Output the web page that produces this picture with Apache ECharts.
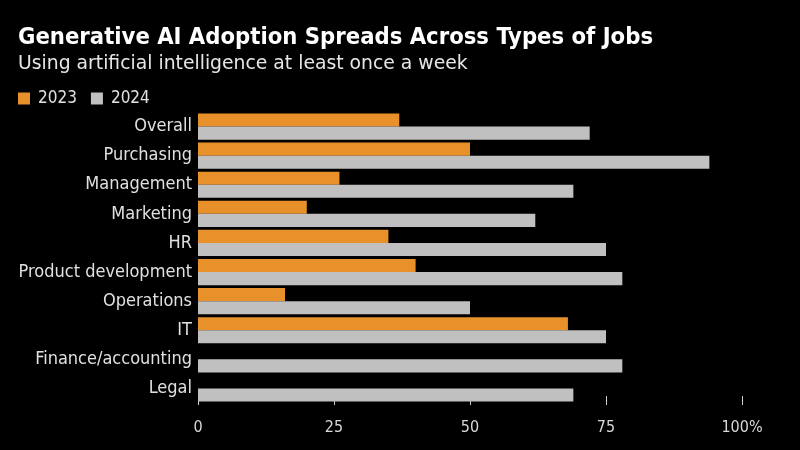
<!DOCTYPE html>
<html>
<head>
<meta charset="utf-8">
<script src="https://cdn.jsdelivr.net/npm/echarts@6/dist/echarts.min.js"></script>
<style>html,body{margin:0;padding:0;background:#000;}#c{width:800px;height:450px;}</style>
</head>
<body>
<div id="c"></div>
<script>
const categories = ["Overall","Purchasing","Management","Marketing","HR","Product development","Operations","IT","Finance/accounting","Legal"];
const values2023 = [37, 50, 26, 20, 35, 40, 16, 68, null, null];
const values2024 = [72, 94, 69, 62, 75, 78, 50, 75, 78, 69];
const seriesNames = ["2023", "2024"];
const FONT = "'DejaVu Sans Condensed', 'DejaVu Sans', sans-serif";
const FONT_WIDE = "'DejaVu Sans', sans-serif";

const chart = echarts.init(document.getElementById('c'), null, {renderer: 'canvas'});
chart.setOption({
  backgroundColor: '#000',
  animation: false,
  title: {
    text: 'Generative AI Adoption Spreads Across Types of Jobs',
    subtext: 'Using artificial intelligence at least once a week',
    left: 18, top: 26, padding: 0, itemGap: 5,
    textStyle: {color: '#fff', fontFamily: FONT, fontWeight: 'bold', fontSize: 23.6},
    subtextStyle: {color: '#e6e6e6', fontFamily: FONT_WIDE, fontSize: 18.8}
  },
  legend: {
    left: 18, top: 90, padding: 0, itemGap: 14,
    icon: 'rect', itemWidth: 12, itemHeight: 12,
    textStyle: {color: '#e0e0e0', fontFamily: FONT, fontSize: 17, padding: [0, 0, 0, 3]},
    data: seriesNames
  },
  grid: {left: 198, right: 58, top: 112, bottom: 47, containLabel: false},
  xAxis: {
    type: 'value', min: 0, max: 100, interval: 25, offset: 2,
    axisLine: {show: false},
    axisTick: {show: true, inside: true, length: 9, lineStyle: {color: '#d0d0d0', width: 1}},
    splitLine: {show: false},
    axisLabel: {color: '#d8d8d8', fontFamily: FONT, fontSize: 16, margin: 15,
      formatter: v => v === 100 ? '100%' : String(v)}
  },
  yAxis: {
    type: 'category', data: categories, inverse: true,
    axisLine: {show: false}, axisTick: {show: false},
    axisLabel: {color: '#e0e0e0', fontFamily: FONT, fontSize: 18, margin: 6}
  },
  series: [
    {name: seriesNames[0], type: 'bar', data: values2023, barGap: '0%', barCategoryGap: '10%',
      itemStyle: {color: '#e8912a'}},
    {name: seriesNames[1], type: 'bar', data: values2024, barGap: '0%', barCategoryGap: '10%',
      itemStyle: {color: '#c0c0c0'}}
  ]
});
</script>
</body>
</html>
